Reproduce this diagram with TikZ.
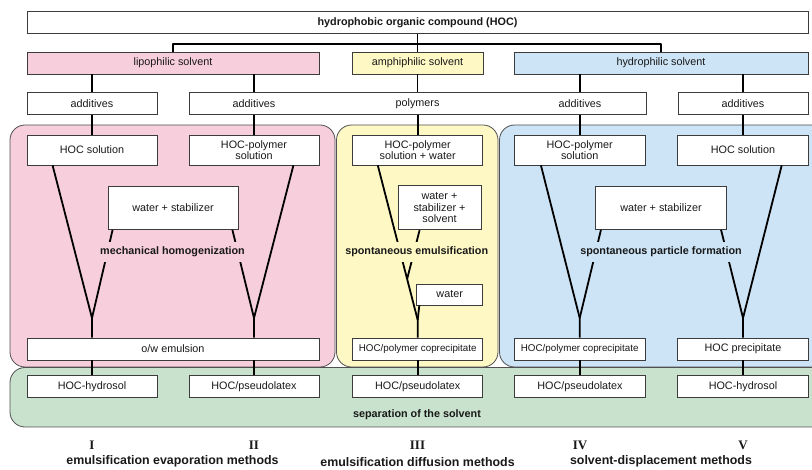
\documentclass[tikz,border=0pt]{standalone}
\usepackage{fontspec}
\setmainfont{Liberation Sans}
\newfontfamily\romfont{Liberation Serif}
\usetikzlibrary{calc}
\definecolor{pinkbg}{RGB}{247,206,219}
\definecolor{yellowbg}{RGB}{253,248,196}
\definecolor{bluebg}{RGB}{204,228,246}
\definecolor{greenbg}{RGB}{201,226,205}
\definecolor{boxline}{RGB}{60,60,60}
\definecolor{regline}{RGB}{80,80,80}
\definecolor{txt}{RGB}{25,25,25}
\newcommand\boxfont{\fontsize{10.8}{11.3}\selectfont}
\newcommand\smallboxfont{\fontsize{9.8}{11}\selectfont}
\newcommand\lblfont{\bfseries\fontsize{10.8}{12}\selectfont}
\newcommand\botfont{\bfseries\fontsize{12.4}{14}\selectfont}
\newcommand\romnum{\romfont\bfseries\fontsize{13}{14}\selectfont}
\begin{document}
\begin{tikzpicture}[x=1pt,y=-1pt,
  box/.style={draw=boxline, fill=white, line width=0.8pt, inner sep=1pt, align=center, font=\boxfont, text=txt},
  region/.style={draw=regline, line width=0.8pt, rounded corners=15pt},
  conn/.style={line width=1.8pt, draw=black, line join=round},
  lbl/.style={font=\lblfont, text=txt, inner xsep=3pt, inner ysep=5pt},
  bot/.style={font=\botfont, text=txt, inner sep=0pt},
  rom/.style={font=\romnum, text=txt, inner sep=0pt},
  txtn/.style={font=\boxfont, text=txt, inner sep=0pt}]
\useasboundingbox (0,0) rectangle (812,470);
\fill[white] (0,0) rectangle (812,470);
% regions
\draw[region, fill=pinkbg] (10,125) rectangle (335,367);
\draw[region, fill=yellowbg] (336.5,125) rectangle (498,367);
\draw[region, fill=bluebg] (499.5,125) rectangle (830,367);
\draw[region, fill=greenbg] (10,367.5) rectangle (830,427);
% top rows
\node[box, minimum width=781pt, minimum height=21.5pt] (hoc) at (417.5,22.5) {\bfseries hydrophobic organic compound (HOC)};
\node[box, fill=pinkbg, minimum width=292pt, minimum height=22pt] (lip) at (173,63) {lipophilic solvent};
\node[box, fill=yellowbg, minimum width=131pt, minimum height=22pt] (amp) at (417.5,63) {amphiphilic solvent};
\node[box, fill=bluebg, minimum width=294pt, minimum height=22pt] (hyd) at (661,63) {hydrophilic solvent};
\node[box, minimum width=130pt, minimum height=21.5pt] (add1) at (92,103.5) {additives};
\node[box, minimum width=457pt, minimum height=21.5pt] (mid) at (417.5,103.5) {};
\node[txtn] (m1) at (254,103.5) {additives};
\node[txtn] (m2) at (417.5,103.5) {polymers};
\node[txtn] (m3) at (580,103.5) {additives};
\node[box, minimum width=130pt, minimum height=21.5pt] (add4) at (743,103.5) {additives};
% row 4
\node[box, minimum width=130pt, minimum height=30pt] (r4a) at (92,150) {HOC solution};
\node[box, minimum width=130pt, minimum height=30pt] (r4b) at (254,150) {HOC-polymer\\solution};
\node[box, minimum width=130pt, minimum height=30pt] (r4c) at (417.7,150) {HOC-polymer\\solution + water};
\node[box, minimum width=130.7pt, minimum height=30pt] (r4d) at (579.7,150) {HOC-polymer\\solution};
\node[box, minimum width=130.6pt, minimum height=30pt] (r4e) at (743,150) {HOC solution};
% water boxes
\node[box, minimum width=130pt, minimum height=43.5pt] (wa) at (173,207.7) {water + stabilizer};
\node[box, minimum width=83pt, minimum height=44pt] (wb) at (439.5,207.7) {water +\\stabilizer +\\solvent};
\node[box, minimum width=130.7pt, minimum height=43.5pt] (wc) at (661,207.7) {water + stabilizer};
\node[box, minimum width=66pt, minimum height=21pt] (wd) at (449.7,294.5) {water};
% row 5
\node[box, minimum width=292pt, minimum height=22pt] (ow) at (173,349) {o/w emulsion};
\node[box, font=\smallboxfont, minimum width=130pt, minimum height=22pt] (cp1) at (417.7,349) {HOC/polymer coprecipitate};
\node[box, font=\smallboxfont, minimum width=130.7pt, minimum height=22pt] (cp2) at (579.7,349) {HOC/polymer coprecipitate};
\node[box, minimum width=130.6pt, minimum height=22pt] (prec) at (743,349) {HOC precipitate};
% row 6
\node[box, minimum width=130pt, minimum height=22.7pt] (r6a) at (92,386.3) {HOC-hydrosol};
\node[box, minimum width=130pt, minimum height=22.7pt] (r6b) at (254,386.3) {HOC/pseudolatex};
\node[box, minimum width=130pt, minimum height=22.7pt] (r6c) at (417.7,386.3) {HOC/pseudolatex};
\node[box, minimum width=131pt, minimum height=22.7pt] (r6d) at (580,386.3) {HOC/pseudolatex};
\node[box, minimum width=130.6pt, minimum height=22.7pt] (r6e) at (743,386.3) {HOC-hydrosol};
% connectors top
\coordinate (bar) at (417.5,44);
\draw[conn] (hoc.south) -- (amp.north);
\draw[conn] (lip.north) |- (bar) -| (hyd.north);
\draw[conn] (lip.south -| add1.north) -- (add1.north);
\draw[conn] (lip.south -| m1) -- (m1 |- mid.north);
\draw[conn] (amp.south) -- (mid.north);
\draw[conn] (hyd.south -| m3) -- (m3 |- mid.north);
\draw[conn] (hyd.south -| add4.north) -- (add4.north);
\draw[conn] (add1.south) -- (r4a.north);
\draw[conn] (mid.south -| r4b.north) -- (r4b.north);
\draw[conn] (mid.south -| r4c.north) -- (r4c.north);
\draw[conn] (mid.south -| r4d.north) -- (r4d.north);
\draw[conn] (add4.south) -- (r4e.north);
% apex points
\coordinate (pA) at (92,318);
\coordinate (pB) at (254,318);
\coordinate (yA) at (417.7,320);
\coordinate (bA) at (579.7,318);
\coordinate (bB) at (743,318);
\coordinate (yS) at ([xshift=25.5pt]r4c.south west);
\coordinate (yJ) at ($(yS)!0.735!(yA)$);
% pink
\draw[conn] ([xshift=26pt]r4a.south west) -- (pA) -- (pA |- ow.north);
\draw[conn] ([xshift=5pt]wa.south west) -- (pA);
\draw[conn] ([xshift=-26pt]r4b.south east) -- (pB) -- (pB |- ow.north);
\draw[conn] ([xshift=-6pt]wa.south east) -- (pB);
% yellow
\draw[conn] (yS) -- (yA) -- (yA |- cp1.north);
\draw[conn] ([xshift=22pt]wb.south west) -- (yJ);
\draw[conn] ([xshift=3pt]wd.south west) -- (yA);
% blue
\draw[conn] ([xshift=27pt]r4d.south west) -- (bA) -- (bA |- cp2.north);
\draw[conn] ([xshift=5.7pt]wc.south west) -- (bA);
\draw[conn] ([xshift=-27pt]r4e.south east) -- (bB) -- (bB |- prec.north);
\draw[conn] ([xshift=-5.7pt]wc.south east) -- (bB);
% bottom connectors
\draw[conn] (ow.south -| r6a.north) -- (r6a.north);
\draw[conn] (ow.south -| r6b.north) -- (r6b.north);
\draw[conn] (cp1.south) -- (r6c.north);
\draw[conn] (cp2.south -| r6d.north) -- (r6d.north);
\draw[conn] (prec.south) -- (r6e.north);
% labels
\node[lbl, fill=pinkbg] (mh) at (172.5,252) {mechanical homogenization};
\node[lbl, fill=yellowbg] (se) at (416.7,252) {spontaneous emulsification};
\node[lbl, fill=bluebg] (sp) at (661,252) {spontaneous particle formation};
\node[lbl] (sep) at (417,415) {separation of the solvent};
\node[rom] (n1) at (92,445) {I};
\node[rom] (n2) at (254,445) {II};
\node[rom] (n3) at (417.5,445) {III};
\node[rom] (n4) at (580,445) {IV};
\node[rom] (n5) at (743,445) {V};
\node[bot] (b1) at (172.5,461.7) {emulsification evaporation methods};
\node[bot] (b2) at (417.5,461.7) {emulsification diffusion methods};
\node[bot] (b3) at (661,461.7) {solvent-displacement methods};
\end{tikzpicture}
\end{document}
